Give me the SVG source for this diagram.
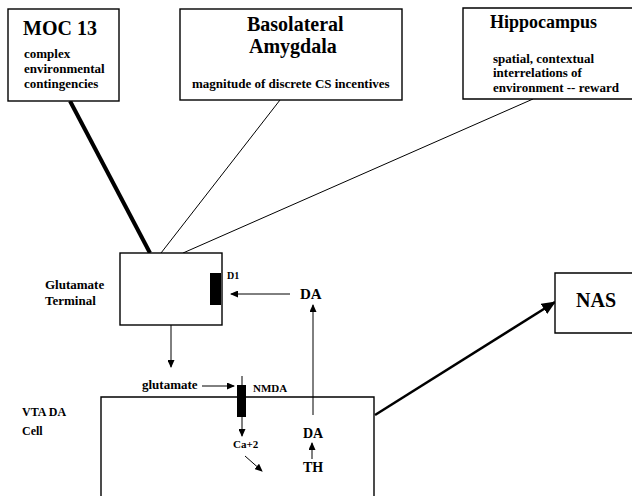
<svg xmlns="http://www.w3.org/2000/svg" width="632" height="496" viewBox="0 0 632 496">
<style>
text{font-family:"Liberation Serif","Times New Roman",serif;font-weight:bold;fill:#000}
.box{fill:#fff;stroke:#000;stroke-width:1.4}
.open{fill:none;stroke:#000;stroke-width:1.4}
.thin{fill:none;stroke:#000;stroke-width:1}
.rec{fill:#000;stroke:none}
.t20{font-size:20px}.t18{font-size:18px}.t13{font-size:13px}.t12{font-size:12px}.t11{font-size:11px}.t10{font-size:10px}
</style>
<defs>
<marker id="ah" markerUnits="userSpaceOnUse" markerWidth="8" markerHeight="7" refX="7" refY="3.5" orient="auto">
<path d="M0,0 L8,3.5 L0,7 Z" fill="#000"/>
</marker>
<marker id="ahBig" markerUnits="userSpaceOnUse" markerWidth="14" markerHeight="12" refX="13" refY="6" orient="auto">
<path d="M0,0 L14,6 L0,12 Z" fill="#000"/>
</marker>
</defs>
<rect width="632" height="496" fill="#fff"/>

<g id="connectors">
<line x1="70" y1="101" x2="150" y2="253" stroke="#000" stroke-width="4"/>
<line x1="280" y1="100" x2="161" y2="253" class="thin"/>
<line x1="533" y1="99" x2="183" y2="253" class="thin"/>
<line x1="290" y1="294" x2="231" y2="294" class="thin" marker-end="url(#ah)"/>
<polyline points="200,294 171,294 171,367" class="thin" marker-end="url(#ah)"/>
<line x1="313" y1="415" x2="313" y2="305" class="thin" marker-end="url(#ah)"/>
<line x1="202" y1="386" x2="234" y2="386" class="thin" marker-end="url(#ah)"/>
<line x1="242" y1="417" x2="242" y2="436" class="thin" marker-end="url(#ah)"/>
<line x1="245" y1="456" x2="262" y2="471" class="thin" marker-end="url(#ah)"/>
<line x1="312" y1="459" x2="312" y2="443" class="thin" marker-end="url(#ah)"/>
<line x1="375" y1="415" x2="555" y2="302" stroke="#000" stroke-width="2.5" marker-end="url(#ahBig)"/>
</g>

<g id="moc13">
<rect x="8" y="9" width="111" height="92" class="box"/>
<text x="23" y="35" class="t20">MOC 13</text>
<text x="24" y="58" class="t13">complex</text>
<text x="24" y="73" class="t13">environmental</text>
<text x="24" y="88" class="t13">contingencies</text>
</g>

<g id="basolateral-amygdala">
<rect x="180" y="9" width="222" height="91" class="box"/>
<text x="247" y="31" class="t20">Basolateral</text>
<text x="249" y="53" class="t20">Amygdala</text>
<text x="192" y="88" class="t13">magnitude of discrete CS incentives</text>
</g>

<g id="hippocampus">
<path d="M633,8 H463 V99 H633" class="box"/>
<text x="490" y="28" class="t18">Hippocampus</text>
<text x="493" y="63" class="t13">spatial, contextual</text>
<text x="493" y="77" class="t13">interrelations of</text>
<text x="493" y="92" class="t13">environment -- reward</text>
</g>

<g id="glutamate-terminal">
<rect x="120" y="253" width="102" height="72" class="box"/>
<text x="45" y="289" class="t13">Glutamate</text>
<text x="45" y="305" class="t13">Terminal</text>
</g>

<g id="d1-receptor">
<rect x="210" y="273" width="11" height="32" class="rec"/>
<text x="227" y="279" class="t10">D1</text>
</g>

<g id="da-top">
<text x="300" y="299" style="font-size:15px">DA</text>
</g>

<g id="vta-da-cell">
<path d="M101,497 V397 H374 V497" class="open"/>
<text x="22" y="416" class="t12">VTA DA</text>
<text x="22" y="435" class="t12">Cell</text>
</g>

<g id="glutamate-label">
<text x="142" y="389" class="t13">glutamate</text>
</g>

<g id="nmda-receptor">
<line x1="242" y1="376" x2="242" y2="385" class="thin"/>
<rect x="237" y="385" width="9" height="32" class="rec"/>
<text x="253" y="392" class="t11">NMDA</text>
</g>

<g id="ca2">
<text x="233" y="448" class="t11">Ca+2</text>
</g>

<g id="da-inner">
<text x="303" y="438" style="font-size:14px">DA</text>
</g>

<g id="th">
<text x="303" y="472" style="font-size:14px">TH</text>
</g>

<g id="nas">
<path d="M633,273 H555 V333 H633" class="box"/>
<text x="576" y="307" class="t20">NAS</text>
</g>
</svg>
